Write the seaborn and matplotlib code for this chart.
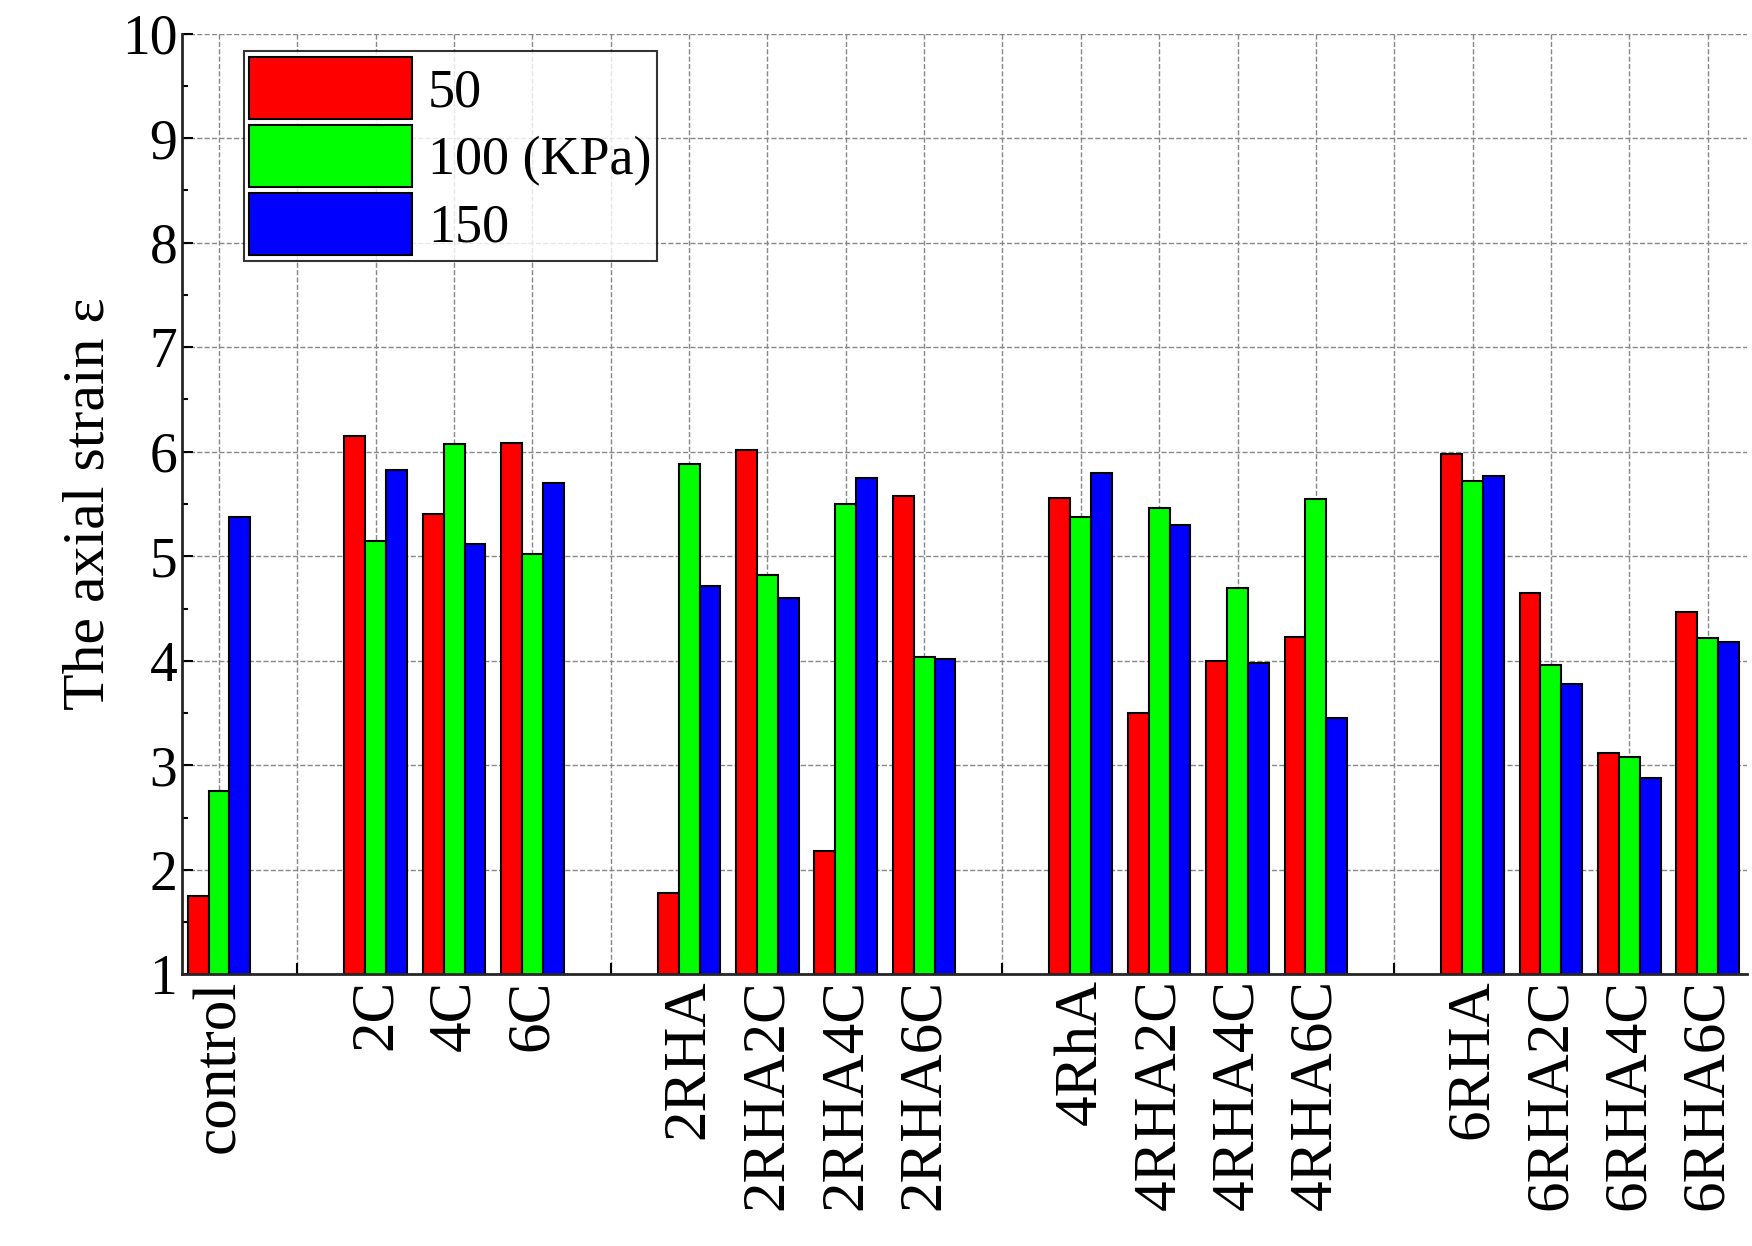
import numpy as np
import pandas as pd
import matplotlib
matplotlib.use("Agg")
import matplotlib.pyplot as plt
import seaborn as sns
from matplotlib.ticker import MultipleLocator

# slot order; blank strings are empty gap slots
order = ["control", " ", "2C", "4C", "6C", "  ",
         "2RHA", "2RHA2C", "2RHA4C", "2RHA6C", "   ",
         "4RhA", "4RHA2C", "4RHA4C", "4RHA6C", "    ",
         "6RHA", "6RHA2C", "6RHA4C", "6RHA6C"]
samples = ["control", "2C", "4C", "6C", "2RHA", "2RHA2C", "2RHA4C", "2RHA6C",
           "4RhA", "4RHA2C", "4RHA4C", "4RHA6C", "6RHA", "6RHA2C", "6RHA4C", "6RHA6C"]
p50 = [1.75, 6.15, 5.40, 6.08, 1.78, 6.02, 2.18, 5.58, 5.56, 3.50, 4.00, 4.23, 5.98, 4.65, 3.12, 4.47]
p100 = [2.75, 5.15, 6.07, 5.02, 5.88, 4.82, 5.50, 4.04, 5.38, 5.46, 4.70, 5.55, 5.72, 3.96, 3.08, 4.22]
p150 = [5.38, 5.83, 5.12, 5.70, 4.72, 4.60, 5.75, 4.02, 5.80, 5.30, 3.98, 3.45, 5.77, 3.78, 2.88, 4.18]
series = ["50", "100 (KPa)", "150"]

df = pd.DataFrame({"sample": samples * 3,
                   "strain": p50 + p100 + p150,
                   "load": [s for s in series for _ in samples]})

sns.set_style("ticks")
plt.rcParams['font.family'] = ['Liberation Serif', 'DejaVu Serif']
plt.rcParams['text.color'] = 'black'
plt.rcParams['xtick.color'] = 'black'
plt.rcParams['ytick.color'] = 'black'
plt.rcParams['axes.labelcolor'] = 'black'

fig = plt.figure(figsize=(17.52, 12.46), dpi=100)
ax = fig.add_axes([0.104, 0.218, 0.893, 0.755])
sns.barplot(data=df, x="sample", y="strain", hue="load", order=order,
            hue_order=series, palette=["#ff0000", "#00ff00", "#0000ff"],
            edgecolor="black", linewidth=1.5, saturation=1, width=0.8, ax=ax)

ax.set_ylim(1, 10)
ax.set_xlim(-0.47, 19.5)
ax.yaxis.set_major_locator(MultipleLocator(1))
ax.yaxis.set_minor_locator(MultipleLocator(0.5))
ax.set_xticks(range(len(order)))
ax.set_xticklabels(order, rotation=90, fontsize=44)
ax.tick_params(axis="y", labelsize=40, direction="in", length=8, width=1.5)
ax.tick_params(axis="y", which="minor", direction="in", length=4, width=1.5)
ax.tick_params(axis="x", direction="in", length=8, width=1.5)
ax.grid(True, linestyle="--", color="#888888", linewidth=1)
ax.set_axisbelow(True)
ax.set_xlabel("")
ax.set_ylabel("The axial strain ε", fontsize=43)
for s in ["top", "right"]:
    ax.spines[s].set_visible(False)
for s in ["left", "bottom"]:
    ax.spines[s].set_linewidth(2)

leg = ax.legend(loc="upper left", fontsize=39, frameon=True, fancybox=False,
                edgecolor="black", handlelength=3.0, handleheight=1.4,
                borderpad=0.1, labelspacing=0.1, handletextpad=0.3,
                bbox_to_anchor=(0.022, 1.01))
leg.get_frame().set_linewidth(1.5)

fig.savefig("out.png", dpi=100)
